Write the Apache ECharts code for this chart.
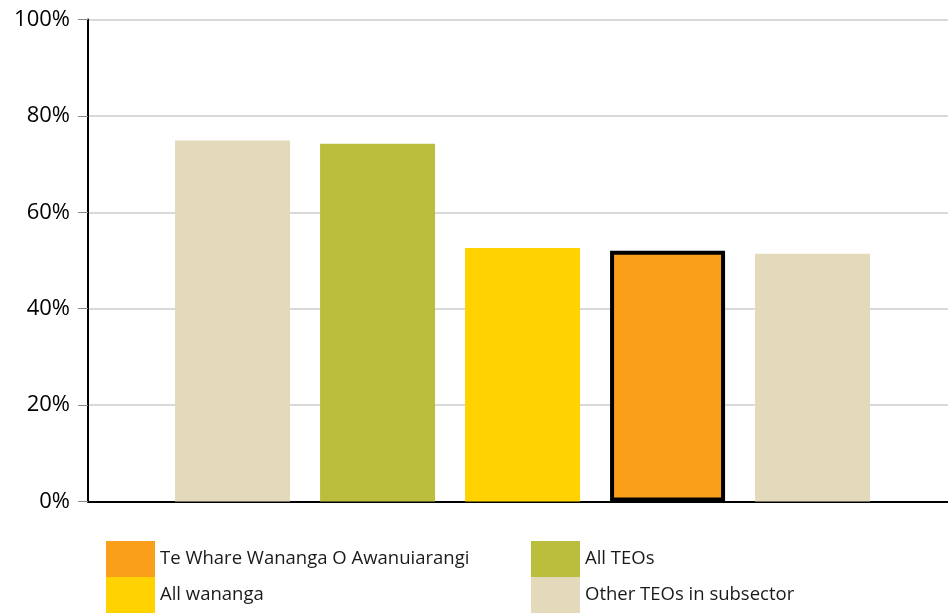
<!DOCTYPE html>
<html><head><meta charset="utf-8">
<script src="https://cdn.jsdelivr.net/npm/echarts@6/dist/echarts.min.js"></script>
<style>html,body{margin:0;padding:0;background:#fff}#c{width:948px;height:613px}</style>
</head><body><div id="c"></div>
<script>
const categories = ['Other TEOs in subsector', 'All TEOs', 'All wananga', 'Te Whare Wananga O Awanuiarangi', 'Other TEOs in subsector'];
const values = [74.9, 74.2, 52.6, 52.0, 51.4];
const yTicks = [0, 20, 40, 60, 80, 100];
const legendCol1 = ['Te Whare Wananga O Awanuiarangi', 'All wananga'];
const legendCol2 = ['All TEOs', 'Other TEOs in subsector'];

const colorOf = {
  'Te Whare Wananga O Awanuiarangi': '#FA9F1A',
  'All TEOs': '#BBBD3D',
  'All wananga': '#FFD200',
  'Other TEOs in subsector': '#E3DABB'
};
const highlight = 'Te Whare Wananga O Awanuiarangi';

const barData = values.map((v, i) => ({
  value: [i + 1, v],
  itemStyle: categories[i] === highlight
    ? { color: colorOf[categories[i]], borderColor: '#000', borderWidth: 4 }
    : { color: colorOf[categories[i]] }
}));

const legendNames = legendCol1.concat(legendCol2);
const dummySeries = legendNames.map(n => ({
  name: n, type: 'scatter', data: [], itemStyle: { color: colorOf[n], opacity: 1 }
}));

const legendCommon = {
  icon: 'rect', itemWidth: 49, itemHeight: 36, itemGap: 0,
  padding: 0, selectedMode: false, orient: 'vertical',
  textStyle: { fontFamily: 'Open Sans', fontSize: 18.5, color: '#1a1a1a', padding: [5, 0, 0, 0] },
  itemStyle: { opacity: 1 }
};

const chart = echarts.init(document.getElementById('c'));
chart.setOption({
  animation: false,
  grid: { left: 88, right: 0, top: 19.5, bottom: 111.5 },
  xAxis: {
    type: 'value', min: 0.003, max: 5.934,
    axisLine: { show: true, onZero: false, lineStyle: { color: '#000', width: 2 } },
    axisTick: { show: false }, axisLabel: { show: false }, splitLine: { show: false }
  },
  yAxis: {
    type: 'value', min: yTicks[0], max: yTicks[yTicks.length - 1], interval: 20,
    axisLine: { show: true, lineStyle: { color: '#000', width: 2 } },
    axisTick: { show: true, length: 10, lineStyle: { color: '#888', width: 1 } },
    axisLabel: { formatter: '{value}%', fontFamily: 'Open Sans', fontSize: 22, color: '#000', margin: 18 },
    splitLine: { show: true, lineStyle: { color: '#d9d9d9', width: 2 } }
  },
  legend: [
    Object.assign({}, legendCommon, { left: 106, top: 541, data: legendCol1 }),
    Object.assign({}, legendCommon, { left: 531, top: 541, data: legendCol2 })
  ],
  series: [{
    type: 'bar', barWidth: 115, data: barData, silent: true
  }].concat(dummySeries)
});
</script></body></html>
